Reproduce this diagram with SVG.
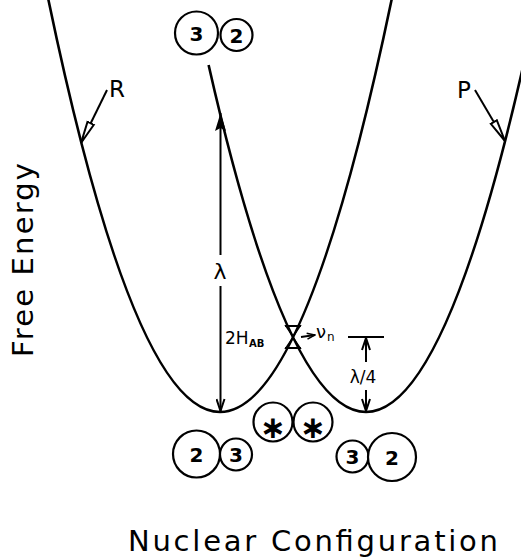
<svg xmlns="http://www.w3.org/2000/svg" width="521" height="559" viewBox="0 0 521 559">
  <style>
    .curve { fill: none; stroke: #000; stroke-width: 2.6; }
    .line { fill: none; stroke: #000; stroke-width: 2; }
    .thin { fill: none; stroke: #000; stroke-width: 1.8; }
    .ring { fill: #fff; stroke: #000; stroke-width: 2.2; }
    text { font-family: "DejaVu Sans", "Liberation Sans", sans-serif; fill: #000; }
    .digit { font-size: 20px; font-weight: bold; text-anchor: middle; }
    .star { font-size: 31px; font-weight: bold; text-anchor: middle; }
    .axis { font-size: 29px; }
    .tag { font-size: 23px; }
  </style>
  <defs>
    <marker id="vee" viewBox="0 0 14 10" refX="13" refY="5" markerWidth="14" markerHeight="10" orient="auto" markerUnits="userSpaceOnUse">
      <path d="M1,1 L13,5 L1,9" fill="none" stroke="#000" stroke-width="2"/>
    </marker>
    <marker id="dart" viewBox="0 0 18 12" refX="18" refY="6" markerWidth="18" markerHeight="12" orient="auto" markerUnits="userSpaceOnUse">
      <path d="M0,0.5 L18,6 L0,11.5 L3,6 Z" fill="#000"/>
    </marker>
    <marker id="quill" viewBox="0 0 24 10" refX="23" refY="5" markerWidth="24" markerHeight="10" orient="auto" markerUnits="userSpaceOnUse">
      <path d="M1,1.5 L23,5 L1,8.5 Z" fill="#fff" stroke="#000" stroke-width="2"/>
    </marker>
    <marker id="tick" viewBox="0 0 10 8" refX="9" refY="4" markerWidth="10" markerHeight="8" orient="auto" markerUnits="userSpaceOnUse">
      <path d="M1,1 L9,4 L1,7" fill="none" stroke="#000" stroke-width="1.6"/>
    </marker>
  </defs>

  <!-- free-energy parabolas and their dimension arrows -->
  <g id="connectors">
    <path id="surface-R" class="curve" d="M45,-16.75 Q220,840.75 395,-16.75"/>
    <path id="surface-P" class="curve" d="M208.6,65 Q366,759 523.4,65"/>

    <!-- reorganisation energy lambda -->
    <line class="line" x1="220.5" y1="255" x2="220.5" y2="113" marker-end="url(#dart)"/>
    <line class="line" x1="220.5" y1="286" x2="220.5" y2="411" marker-end="url(#vee)"/>

    <!-- activation barrier lambda/4 -->
    <line class="line" x1="348" y1="337" x2="384" y2="337"/>
    <line class="line" x1="366" y1="362" x2="366" y2="338" marker-end="url(#vee)"/>
    <line class="line" x1="366" y1="390" x2="366" y2="411" marker-end="url(#vee)"/>

    <!-- curve labels -->
    <line class="line" x1="107" y1="90" x2="81" y2="143" marker-end="url(#quill)"/>
    <line class="line" x1="475" y1="90" x2="505" y2="141" marker-end="url(#quill)"/>

    <!-- coupling splitting at the crossing -->
    <line class="thin" x1="285" y1="326" x2="301" y2="326"/>
    <line class="thin" x1="285" y1="348" x2="301" y2="348"/>
    <polygon class="thin" points="286,326 300,326 293,336.5"/>
    <polygon class="thin" points="286,348 300,348 293,337.5"/>
    <line class="thin" x1="301" y1="337" x2="315" y2="335" marker-end="url(#tick)"/>
  </g>

  <g id="label-R"><text class="tag" x="109" y="97">R</text></g>
  <g id="label-P"><text class="tag" x="457" y="98">P</text></g>
  <g id="label-lambda"><text x="220" y="279" font-size="22" text-anchor="middle">λ</text></g>
  <g id="label-lambda4"><text x="363" y="383" font-size="17" text-anchor="middle">λ/4</text></g>
  <g id="label-HAB">
    <text x="225" y="344" font-size="17">2H</text>
    <text x="249" y="347" font-size="10" font-weight="bold">AB</text>
  </g>
  <g id="label-nu">
    <text x="316" y="338" font-size="18">ν</text>
    <text x="327" y="341" font-size="12">n</text>
  </g>

  <!-- ion pairs -->
  <g id="pair-top">
    <circle class="ring" cx="196.5" cy="33" r="21.5"/>
    <circle class="ring" cx="236.5" cy="35" r="16"/>
    <text class="digit" x="196.5" y="40.5">3</text>
    <text class="digit" x="236.5" y="42.5">2</text>
  </g>
  <g id="pair-left">
    <circle class="ring" cx="196.5" cy="454" r="23.5"/>
    <circle class="ring" cx="236" cy="454.5" r="16"/>
    <text class="digit" x="196.5" y="461.5">2</text>
    <text class="digit" x="236" y="462">3</text>
  </g>
  <g id="pair-activated">
    <circle class="ring" cx="273" cy="422" r="19.5"/>
    <circle class="ring" cx="313" cy="422" r="19.5"/>
    <text class="star" x="273" y="437.5">∗</text>
    <text class="star" x="313" y="437.5">∗</text>
  </g>
  <g id="pair-right">
    <circle class="ring" cx="352.5" cy="456.5" r="16"/>
    <circle class="ring" cx="392" cy="457" r="24"/>
    <text class="digit" x="352.5" y="464">3</text>
    <text class="digit" x="392" y="464.5">2</text>
  </g>

  <!-- axes -->
  <g id="axis-y"><text class="axis" transform="translate(33,260) rotate(-90)" text-anchor="middle" textLength="194" lengthAdjust="spacing">Free Energy</text></g>
  <g id="axis-x"><text class="axis" x="128" y="551" textLength="370" lengthAdjust="spacing">Nuclear Configuration</text></g>
</svg>
